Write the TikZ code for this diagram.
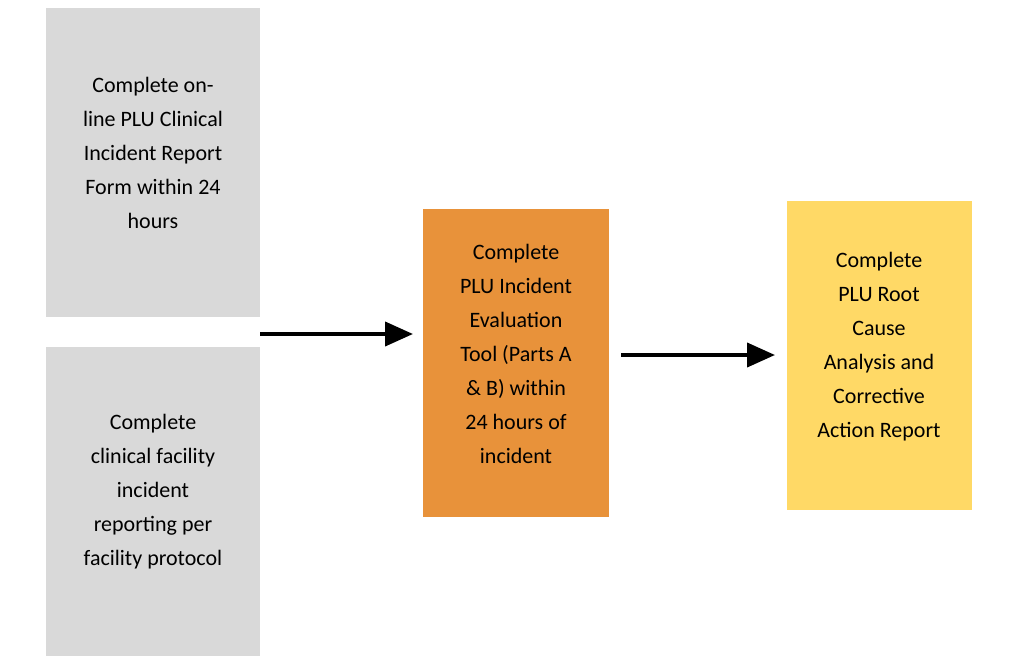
\documentclass[tikz,border=0pt]{standalone}
\usepackage{fontspec}
\setmainfont{Carlito}
\usetikzlibrary{arrows.meta}
\definecolor{gbox}{HTML}{D9D9D9}
\definecolor{obox}{HTML}{E8923A}
\definecolor{ybox}{HTML}{FFD966}
\begin{document}
\begin{tikzpicture}[x=1pt,y=-1pt,
  box/.style={anchor=north west,inner sep=0pt,align=center,font=\fontsize{22}{34}\selectfont,text=black},
  arr/.style={line width=4pt,-{Triangle[length=28pt,width=24pt]}}]
\useasboundingbox[fill=white] (0,0) rectangle (1024,664);
\node[box,fill=gbox,minimum width=214pt,minimum height=309pt] (a) at (46,8) {};
\node[align=center,font=\fontsize{22}{34}\selectfont] (at) at (153,153) {Complete on-\\line PLU Clinical\\Incident Report\\Form within 24\\hours};
\node[box,fill=gbox,minimum width=214pt,minimum height=309pt] (b) at (46,347) {};
\node[align=center,font=\fontsize{22}{34}\selectfont] (bt) at (153,492) {Complete\\clinical facility\\incident\\reporting per\\facility protocol};
\node[box,fill=obox,minimum width=186pt,minimum height=308pt] (c) at (423,209) {};
\node[align=center,font=\fontsize{22}{34}\selectfont] (ct) at (516,354) {Complete\\PLU Incident\\Evaluation\\Tool (Parts A\\\& B) within\\24 hours of\\incident};
\node[box,fill=ybox,minimum width=185pt,minimum height=309pt] (d) at (787,201) {};
\node[align=center,font=\fontsize{22}{34}\selectfont] (dt) at (879,347) {Complete\\PLU Root\\Cause\\Analysis and\\Corrective\\Action Report};
\coordinate (s1) at (260,334);
\coordinate (e1) at (413,334);
\coordinate (s2) at (621,355);
\coordinate (e2) at (775,355);
\draw[arr] (s1) -- (e1);
\draw[arr] (s2) -- (e2);
\end{tikzpicture}
\end{document}
